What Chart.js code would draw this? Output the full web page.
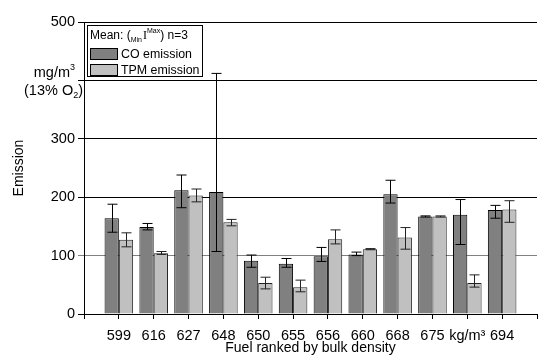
<!DOCTYPE html>
<html>
<head>
<meta charset="utf-8">
<script src="https://cdn.jsdelivr.net/npm/chart.js@4.4.1/dist/chart.umd.min.js"></script>
<style>
  body { margin: 0; background: #fff; }
  #chart { display: block; }
</style>
</head>
<body>
<canvas id="chart" width="545" height="356"></canvas>
<script>
// fuel labels (ranked by bulk density); first and last are empty slots
const fuels = ['', '599', '616', '627', '648', '650', '655', '656', '660', '668', '675', 'kg/m³', '694', ''];

// CO emission: mean, min, max
const coMean = [null, 164, 149, 212, 209, 91, 86, 99, 102, 205, 167, 170, 178, null];
const coMin  = [null, 140, 144, 182, 107, 80, 80, 90, 100, 190, 166, 119, 164, null];
const coMax  = [null, 188, 155, 238, 412, 101, 95, 114, 106, 229, 168, 196, 186, null];

// TPM emission: mean, min, max
const tpmMean = [null, 127, 104, 203, 157, 53, 46, 128, 111, 131, 167, 53, 179, null];
const tpmMin  = [null, 115, 102, 192, 151, 43, 38, 120, 110, 111, 166, 46, 157, null];
const tpmMax  = [null, 139, 107, 214, 162, 63, 58, 144, 112, 148, 168, 67, 194, null];

const yTicks = [0, 100, 200, 300, 400, 500];

const FONT = '"Liberation Sans", Arial, sans-serif';

// min/max whiskers on top of the bars
const errorBars = {
    id: 'errorBars',
    afterDatasetsDraw(chart) {
        const ctx = chart.ctx;
        const y = chart.scales.y;
        const sets = [[coMin, coMax, '#000'], [tpmMin, tpmMax, '#222']];
        sets.forEach((s, di) => {
            const meta = chart.getDatasetMeta(di);
            meta.data.forEach((bar, i) => {
                if (s[0][i] == null) return;
                const x = Math.round(bar.x) + 0.5;
                const y1 = y.getPixelForValue(s[0][i]);
                const y2 = y.getPixelForValue(s[1][i]);
                ctx.save();
                ctx.strokeStyle = s[2];
                ctx.lineWidth = 1;
                ctx.beginPath();
                ctx.moveTo(x, y1); ctx.lineTo(x, y2);
                ctx.moveTo(x - 5, y1); ctx.lineTo(x + 5, y1);
                ctx.moveTo(x - 5, y2); ctx.lineTo(x + 5, y2);
                ctx.stroke();
                ctx.restore();
            });
        });
    }
};

// legend box, unit label and axis titles
const extras = {
    id: 'extras',
    afterDraw(chart) {
        const ctx = chart.ctx;
        const y = chart.scales.y;
        ctx.save();
        ctx.fillStyle = '#000';
        ctx.textBaseline = 'alphabetic';

        // legend
        ctx.fillStyle = '#fff';
        ctx.fillRect(87, 25, 115, 51);
        ctx.strokeStyle = '#000';
        ctx.lineWidth = 1;
        ctx.strokeRect(87.5, 25.5, 115, 51);

        ctx.fillStyle = '#000';
        ctx.textAlign = 'left';
        let x = 90;
        ctx.font = '12px ' + FONT;
        ctx.fillText('Mean: (', x, 39);
        x += ctx.measureText('Mean: (').width;
        ctx.font = '7px ' + FONT;
        ctx.fillText('Min', x, 42);
        x += ctx.measureText('Min').width + 1;
        ctx.font = '12px "Liberation Serif", "Times New Roman", serif';
        ctx.fillText('I', x, 39);
        x += ctx.measureText('I').width;
        ctx.font = '7px ' + FONT;
        ctx.fillText('Max', x, 33);
        x += ctx.measureText('Max').width;
        ctx.font = '12px ' + FONT;
        ctx.fillText(') n=3', x, 39);

        ctx.fillStyle = '#808080';
        ctx.fillRect(90, 48, 27, 11);
        ctx.strokeRect(90.5, 48.5, 27, 11);
        ctx.fillStyle = '#c0c0c0';
        ctx.fillRect(90, 64, 27, 11);
        ctx.strokeRect(90.5, 64.5, 27, 11);
        ctx.fillStyle = '#000';
        ctx.font = '12.4px ' + FONT;
        ctx.fillText('CO emission', 121, 58);
        ctx.fillText('TPM emission', 121, 74);

        // unit label in place of the 400 tick
        const p400 = y.getPixelForValue(400);
        ctx.textAlign = 'left';
        ctx.font = '14.5px ' + FONT;
        const w1 = ctx.measureText('mg/m').width;
        ctx.font = '9px ' + FONT;
        const w1s = ctx.measureText('3').width;
        let sx = 75 - w1 - w1s;
        ctx.font = '14.5px ' + FONT;
        ctx.fillText('mg/m', sx, p400 - 3);
        ctx.font = '9px ' + FONT;
        ctx.fillText('3', sx + w1, p400 - 10);

        ctx.font = '14.5px ' + FONT;
        const a = ctx.measureText('(13% O').width;
        const c = ctx.measureText(')').width;
        ctx.font = '9px ' + FONT;
        const b = ctx.measureText('2').width;
        sx = 83 - a - b - c;
        ctx.font = '14.5px ' + FONT;
        ctx.fillText('(13% O', sx, p400 + 15);
        ctx.font = '9px ' + FONT;
        ctx.fillText('2', sx + a, p400 + 18);
        ctx.font = '14.5px ' + FONT;
        ctx.fillText(')', sx + a + b, p400 + 15);

        // axis titles
        const area = chart.chartArea;
        ctx.font = '14px ' + FONT;
        ctx.textAlign = 'center';
        ctx.textBaseline = 'middle';
        ctx.fillText('Fuel ranked by bulk density', (area.left + area.right) / 2, 348);
        ctx.translate(19, (area.top + area.bottom) / 2);
        ctx.rotate(-Math.PI / 2);
        ctx.fillText('Emission', 0, 0);
        ctx.restore();
    }
};

new Chart(document.getElementById('chart'), {
    type: 'bar',
    data: {
        labels: fuels,
        datasets: [
            {
                label: 'CO emission',
                data: coMean,
                backgroundColor: '#808080',
                borderColor: '#000',
                borderWidth: 1,
                categoryPercentage: 0.82,
                barPercentage: 1.0
            },
            {
                label: 'TPM emission',
                data: tpmMean,
                backgroundColor: '#c0c0c0',
                borderColor: '#222',
                borderWidth: 1,
                categoryPercentage: 0.82,
                barPercentage: 1.0
            }
        ]
    },
    options: {
        responsive: false,
        animation: false,
        layout: { padding: { top: 22, right: 0, left: 0, bottom: 0 } },
        plugins: {
            legend: { display: false },
            tooltip: { enabled: false }
        },
        scales: {
            x: {
                offset: false,
                grid: {
                    offset: false,
                    drawOnChartArea: false,
                    drawTicks: true,
                    tickLength: 5,
                    color: '#000'
                },
                border: { color: '#000', width: 1 },
                ticks: {
                    color: '#000',
                    padding: 8,
                    maxRotation: 0,
                    autoSkip: false,
                    font: { family: FONT, size: 14.5 }
                },
                afterFit(scale) { scale.height = 42; }
            },
            y: {
                min: 0,
                max: 500,
                afterBuildTicks(scale) { scale.ticks = yTicks.map(v => ({ value: v })); },
                grid: {
                    color: ctx => ctx.tick && ctx.tick.value === 100 ? '#808080' : '#000',
                    tickLength: 6,
                    drawTicks: true
                },
                border: { color: '#000', width: 1 },
                ticks: {
                    color: '#000',
                    padding: 3,
                    font: { family: FONT, size: 14.5 },
                    callback: v => v === 400 ? '' : v
                },
                afterFit(scale) { scale.width = 84; }
            }
        }
    },
    plugins: [errorBars, extras]
});
</script>
</body>
</html>
